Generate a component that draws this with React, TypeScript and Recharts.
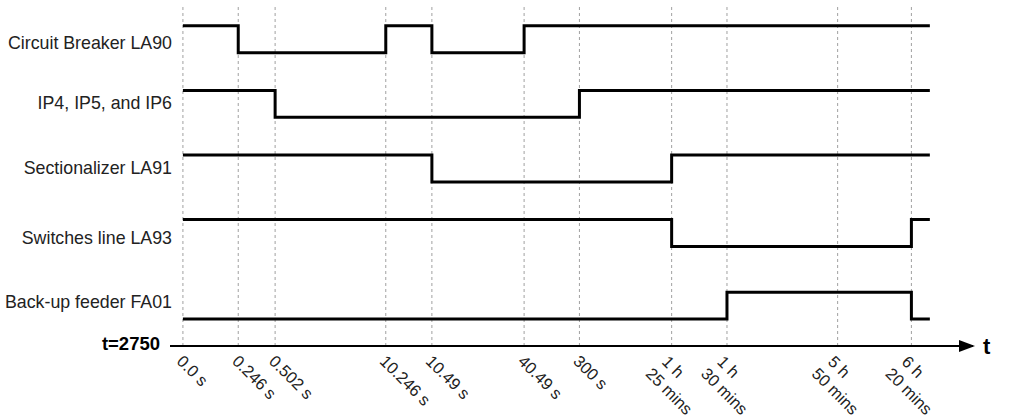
import { Line, LineChart, ReferenceDot, ReferenceLine, XAxis, YAxis } from "recharts";

// schematic time axis: positions of each event along the (non-linear) t axis
const TICK_POS = [0, 3, 5, 11, 13.5, 18.5, 21.5, 26.5, 29.5, 35.5, 39.5];
const TICK_LABELS = [
  "0.0 s",
  "0.246 s",
  "0.502 s",
  "10.246 s",
  "10.49 s",
  "40.49 s",
  "300 s",
  "1 h\n25 mins",
  "1 h\n30 mins",
  "5 h\n50 mins",
  "6 h\n20 mins",
];
const END_POS = 40.5;

const SERIES_NAMES = [
  "Circuit Breaker LA90",
  "IP4, IP5, and IP6",
  "Sectionalizer LA91",
  "Switches line LA93",
  "Back-up feeder FA01",
];

// 1 = Closed, 0 = Open, one value per tick plus the end of the window
const CB_LA90 = [1, 0, 0, 1, 0, 1, 1, 1, 1, 1, 1, 1];
const IP456 = [1, 1, 0, 0, 0, 0, 1, 1, 1, 1, 1, 1];
const SEC_LA91 = [1, 1, 1, 1, 0, 0, 0, 1, 1, 1, 1, 1];
const SW_LA93 = [1, 1, 1, 1, 1, 1, 1, 0, 0, 0, 1, 1];
const FA01 = [0, 0, 0, 0, 0, 0, 0, 0, 1, 1, 0, 0];

const STATES = [CB_LA90, IP456, SEC_LA91, SW_LA93, FA01];

// lane baselines (value of "Open" for each row)
const LANE_BASE = [10.9, 8.5, 6.1, 3.7, 1.0];
const LANE_LABEL_Y = [11.26, 9.03, 6.62, 4.01, 1.64];

const X_MIN = -0.7;
const X_MAX = 42.84;
const FONT = "'Liberation Sans', Arial, sans-serif";

const xs = [...TICK_POS, END_POS];
const data = xs.map((x, i) => {
  const row: Record<string, number> = { x };
  STATES.forEach((s, k) => {
    row[`s${k}`] = LANE_BASE[k] + s[i];
  });
  return row;
});

const levelTicks = LANE_BASE.flatMap((b) => [b + 1, b]);

function TimeTick(props: any) {
  const { x, y, payload } = props;
  const idx = TICK_POS.indexOf(payload.value);
  const lines = (TICK_LABELS[idx] ?? "").split("\n");
  const multi = lines.length > 1;
  return (
    <g transform={`translate(${x},${y})`}>
      <text transform="rotate(45)" fontSize={16.5} fill="#222" fontFamily={FONT}>
        {lines.map((l, i) => (
          <tspan key={i} x={multi ? (i === 0 ? 3 : 0) : 5} dy={i === 0 ? (multi ? 18 : 15) : 20}>
            {l}
          </tspan>
        ))}
      </text>
    </g>
  );
}

function NameTick(props: any) {
  const { y, payload } = props;
  const idx = LANE_LABEL_Y.indexOf(payload.value);
  return (
    <text x={172} y={y} dy={6} textAnchor="end" fontSize={17.8} fill="#222" fontFamily={FONT}>
      {SERIES_NAMES[idx]}
    </text>
  );
}

function StateTick(props: any) {
  const { y, payload } = props;
  const closed = LANE_BASE.some((b) => Math.abs(b + 1 - payload.value) < 1e-6);
  return (
    <text x={966} y={y} dy={6} fontSize={16} fill="#222" fontFamily={FONT}>
      {closed ? "Closed" : "Open"}
    </text>
  );
}

const Arrow = (props: any) => {
  const { cx, cy } = props;
  return (
    <g>
      <path d={`M${cx + 2},${cy} L${cx - 14},${cy - 6} L${cx - 14},${cy + 6} Z`} fill="#000" />
      <text x={cx + 10} y={cy + 8} fontSize={22} fontWeight="bold" fontFamily={FONT}>
        t
      </text>
    </g>
  );
};

const StartLabel = (props: any) => {
  const { cx, cy } = props;
  return (
    <text x={cx - 10} y={cy + 4} textAnchor="end" fontSize={18.5} fontWeight="bold" fontFamily={FONT}>
      t=2750
    </text>
  );
};

export default function App() {
  return (
    <div style={{ position: "absolute", left: 0, top: 0, background: "#fff" }}>
      <LineChart width={1024} height={417} data={data} margin={{ top: 7, right: 0, bottom: 0, left: 0 }}>
        <XAxis
          dataKey="x"
          type="number"
          domain={[X_MIN, X_MAX]}
          ticks={TICK_POS}
          allowDataOverflow
          height={71}
          tickLine={false}
          tickSize={0}
          tickMargin={2}
          tick={<TimeTick />}
          axisLine={{ stroke: "#000", strokeWidth: 2 }}
          interval={0}
        />
        <YAxis
          yAxisId="left"
          type="number"
          domain={[0, 12.6]}
          width={170}
          ticks={LANE_LABEL_Y}
          axisLine={false}
          tickLine={false}
          tick={<NameTick />}
          interval={0}
        />
        <YAxis
          yAxisId="right"
          orientation="right"
          type="number"
          domain={[0, 12.6]}
          width={51}
          ticks={levelTicks}
          axisLine={false}
          tickLine={false}
          tick={<StateTick />}
          interval={0}
        />
        {TICK_POS.map((v) => (
          <ReferenceLine key={v} yAxisId="left" x={v} stroke="#a0a0a0" strokeDasharray="3 3" strokeWidth={1} />
        ))}
        {STATES.map((_, k) => (
          <Line
            key={k}
            yAxisId="left"
            dataKey={`s${k}`}
            type="stepAfter"
            stroke="#000"
            strokeWidth={3}
            dot={false}
            isAnimationActive={false}
          />
        ))}
        <ReferenceDot yAxisId="left" x={X_MAX} y={0} ifOverflow="visible" shape={<Arrow />} />
        <ReferenceDot yAxisId="left" x={X_MIN} y={0} ifOverflow="visible" shape={<StartLabel />} />
      </LineChart>
    </div>
  );
}
